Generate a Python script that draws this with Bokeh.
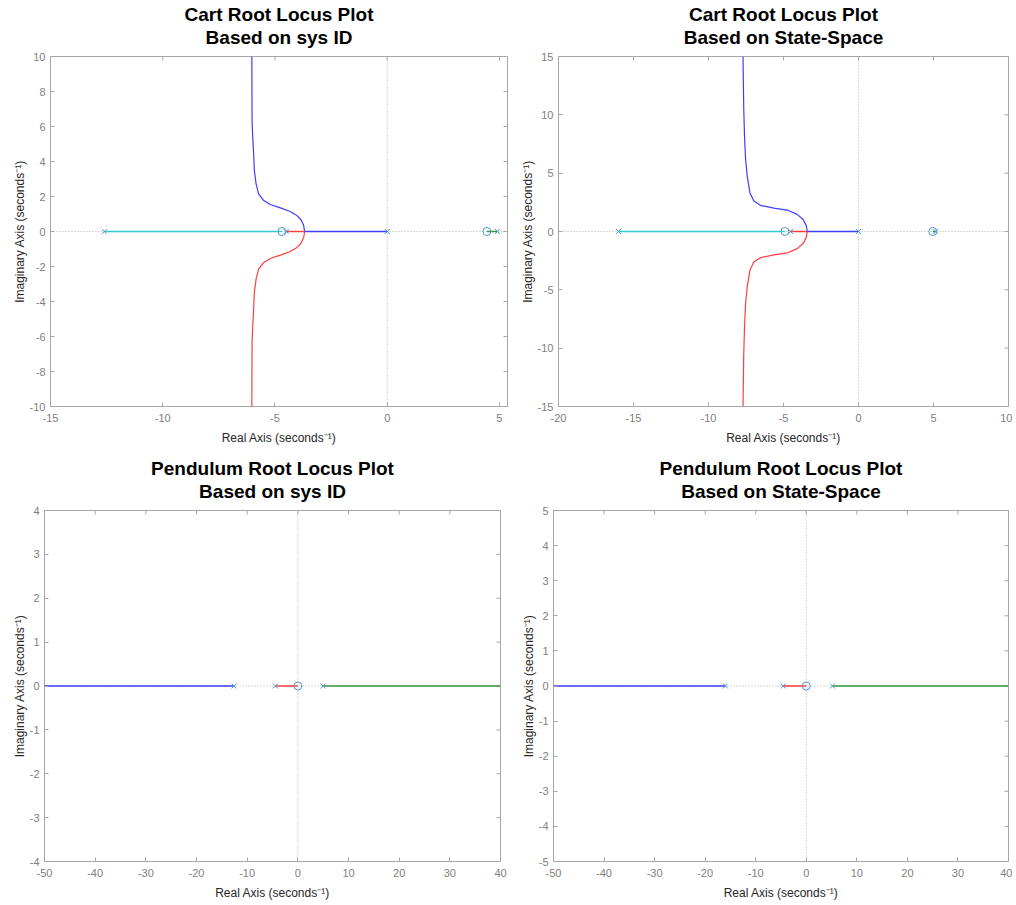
import math
from bokeh.plotting import figure
from bokeh.models import Range1d, FixedTicker, Span, Title
from bokeh.layouts import column, row
from bokeh.embed import file_html
from bokeh.resources import INLINE

FONT = "Liberation Sans"
BLUE = "#3d3dff"
RED = "#ff3d3d"
CYAN = "#33cccc"
GREEN = "#3a9a3a"
MARK = "#4d96d6"
FRAME = "#a6a6a6"

X_LABEL = "Real Axis (seconds\u207b\u00b9)"
Y_LABEL = "Imaginary Axis (seconds\u207b\u00b9)"

# ---------------- Cart, sys ID ----------------
cid_pole_x = [-12.6, -4.5, 0.0, 4.91]
cid_zero_x = [-4.69, 4.44]
cid_cyan_x = [-12.6, -4.69]
cid_green_x = [4.91, 4.44]
cid_red_axis_x = [-4.5, -3.68]
cid_blue_axis_x = [0.0, -3.68]
cid_upper_x = [-3.68, -3.72, -3.84, -4.02, -4.32, -4.76, -5.21, -5.50, -5.73, -5.84, -5.92, -5.95, -5.99, -6.02, -6.03]
cid_upper_y = [0.0, 0.34, 0.67, 0.91, 1.14, 1.35, 1.54, 1.77, 2.15, 2.72, 3.49, 4.44, 5.39, 6.34, 10.0]
cid_lower_x = [-3.68, -3.72, -3.84, -4.02, -4.32, -4.76, -5.21, -5.50, -5.73, -5.84, -5.92, -5.95, -5.99, -6.02, -6.03]
cid_lower_y = [0.0, -0.34, -0.67, -0.91, -1.14, -1.35, -1.54, -1.77, -2.15, -2.72, -3.49, -4.44, -5.39, -6.34, -10.0]

# ---------------- Cart, state-space ----------------
css_pole_x = [-16.0, -4.53, 0.0, 5.15]
css_zero_x = [-4.91, 4.95]
css_cyan_x = [-16.0, -4.91]
css_green_x = [5.15, 4.95]
css_red_axis_x = [-4.53, -3.42]
css_blue_axis_x = [0.0, -3.42]
css_upper_x = [-3.42, -3.47, -3.69, -4.09, -4.75, -5.64, -6.53, -6.98, -7.24, -7.42, -7.53, -7.60, -7.65, -7.70]
css_upper_y = [0.0, 0.46, 1.03, 1.47, 1.84, 2.01, 2.24, 2.61, 3.33, 4.77, 6.21, 8.22, 10.5, 15.0]
css_lower_x = [-3.42, -3.47, -3.69, -4.09, -4.75, -5.64, -6.53, -6.98, -7.24, -7.42, -7.53, -7.60, -7.65, -7.70]
css_lower_y = [0.0, -0.46, -1.03, -1.47, -1.84, -2.01, -2.24, -2.61, -3.33, -4.77, -6.21, -8.22, -10.5, -15.0]

# ---------------- Pendulum, sys ID ----------------
pid_pole_x = [-12.6, -4.4, 5.0]
pid_zero_x = [0.0]
pid_blue_x = [-12.6, -50.0]
pid_red_x = [-4.4, 0.0]
pid_green_x = [5.0, 40.0]

# ---------------- Pendulum, state-space ----------------
pss_pole_x = [-16.0, -4.57, 5.18]
pss_zero_x = [0.0]
pss_blue_x = [-16.0, -50.0]
pss_red_x = [-4.57, 0.0]
pss_green_x = [5.18, 40.0]

# ticks
cid_xticks = [-15, -10, -5, 0, 5]
cid_yticks = [-10, -8, -6, -4, -2, 0, 2, 4, 6, 8, 10]
css_xticks = [-20, -15, -10, -5, 0, 5, 10]
css_yticks = [-15, -10, -5, 0, 5, 10, 15]
pend_xticks = [-50, -40, -30, -20, -10, 0, 10, 20, 30, 40]
pid_yticks = [-4, -3, -2, -1, 0, 1, 2, 3, 4]
pss_yticks = [-5, -4, -3, -2, -1, 0, 1, 2, 3, 4, 5]


def make_fig(w, h, borders, xr, yr, xt, yt, t1, t2):
    bl, br, bt, bb = borders
    p = figure(width=w, height=h, x_range=Range1d(*xr), y_range=Range1d(*yr),
               output_backend="svg", toolbar_location=None, title=None,
               min_border_left=bl, min_border_right=br,
               min_border_top=bt, min_border_bottom=bb,
               background_fill_color="white", border_fill_color="white",
               outline_line_color=FRAME, outline_line_width=1)
    p.xgrid.visible = False
    p.ygrid.visible = False
    for ax, ticks, lab in ((p.xaxis[0], xt, X_LABEL), (p.yaxis[0], yt, Y_LABEL)):
        ax.ticker = FixedTicker(ticks=ticks)
        ax.major_label_overrides = {t: str(t) for t in ticks}
        ax.axis_label = lab
        ax.axis_label_text_font = FONT
        ax.axis_label_text_font_size = "12px"
        ax.axis_label_text_font_style = "normal"
        ax.axis_label_text_color = "#262626"
        ax.major_label_text_font = FONT
        ax.major_label_text_font_size = "11px"
        ax.major_label_text_color = "#808080"
        ax.major_tick_in = 4
        ax.major_tick_out = 0
        ax.major_tick_line_color = FRAME
        ax.minor_tick_line_color = None
        ax.axis_line_color = None
    p.xaxis[0].major_label_standoff = 7
    p.xaxis[0].axis_label_standoff = 6
    p.yaxis[0].major_label_standoff = 5
    p.yaxis[0].axis_label_standoff = 0
    # inward ticks on the top and right edges of the box
    p.scatter(xt, [yr[1]] * len(xt), marker="dash", angle=math.pi / 2, size=8,
              line_color=FRAME, line_width=1)
    p.scatter([xr[1]] * len(yt), yt, marker="dash", size=8,
              line_color=FRAME, line_width=1)
    sub = Title(text=t2, align="center", text_font=FONT, text_font_size="19px",
                text_font_style="bold", text_color="black", standoff=0)
    try:
        sub.padding = {"left": 0, "right": 0, "top": 0, "bottom": 9}
    except Exception:
        sub.standoff = 9
    p.add_layout(sub, "above")
    p.add_layout(Title(text=t1, align="center", text_font=FONT, text_font_size="19px",
                       text_font_style="bold", text_color="black", standoff=0), "above")
    p.add_layout(Span(location=0, dimension="height", line_color="#b0b0b0",
                      line_dash="1 2", line_width=1, level="underlay"))
    p.add_layout(Span(location=0, dimension="width", line_color="#b0b0b0",
                      line_dash="1 2", line_width=1, level="underlay"))
    return p


def markers(p, poles, zeros):
    p.scatter(poles, [0] * len(poles), marker="x", size=7, line_color=MARK, line_width=1)
    p.scatter(zeros, [0] * len(zeros), marker="circle", size=8, line_color=MARK,
              fill_color=None, line_width=1)


LW = 1.2   # curves
HW = 1.6   # segments along the real axis

# Top-left
p1 = make_fig(512, 455, (50, 5, 56, 49), (-15, 5.36), (-10, 10), cid_xticks, cid_yticks,
              "Cart Root Locus Plot", "Based on sys ID")
p1.line(cid_cyan_x, [0, 0], line_color=CYAN, line_width=HW)
p1.line(cid_green_x, [0, 0], line_color=GREEN, line_width=HW)
p1.line(cid_red_axis_x, [0, 0], line_color=RED, line_width=HW)
p1.line(cid_blue_axis_x, [0, 0], line_color=BLUE, line_width=HW)
p1.line(cid_upper_x, cid_upper_y, line_color=BLUE, line_width=LW)
p1.line(cid_lower_x, cid_lower_y, line_color=RED, line_width=LW)
markers(p1, cid_pole_x, cid_zero_x)

# Top-right
p2 = make_fig(500, 455, (46, 4, 56, 49), (-20, 10), (-15, 15), css_xticks, css_yticks,
              "Cart Root Locus Plot", "Based on State-Space")
p2.line(css_cyan_x, [0, 0], line_color=CYAN, line_width=HW)
p2.line(css_green_x, [0, 0], line_color=GREEN, line_width=HW)
p2.line(css_red_axis_x, [0, 0], line_color=RED, line_width=HW)
p2.line(css_blue_axis_x, [0, 0], line_color=BLUE, line_width=HW)
p2.line(css_upper_x, css_upper_y, line_color=BLUE, line_width=LW)
p2.line(css_lower_x, css_lower_y, line_color=RED, line_width=LW)
markers(p2, css_pole_x, css_zero_x)

# Bottom-left
p3 = make_fig(512, 448, (44, 12, 55, 42), (-50, 40), (-4, 4), pend_xticks, pid_yticks,
              "Pendulum Root Locus Plot", "Based on sys ID")
p3.line(pid_blue_x, [0, 0], line_color=BLUE, line_width=HW)
p3.line(pid_red_x, [0, 0], line_color=RED, line_width=HW)
p3.line(pid_green_x, [0, 0], line_color=GREEN, line_width=HW)
markers(p3, pid_pole_x, pid_zero_x)

# Bottom-right
p4 = make_fig(500, 448, (41, 4, 55, 42), (-50, 40), (-5, 5), pend_xticks, pss_yticks,
              "Pendulum Root Locus Plot", "Based on State-Space")
p4.line(pss_blue_x, [0, 0], line_color=BLUE, line_width=HW)
p4.line(pss_red_x, [0, 0], line_color=RED, line_width=HW)
p4.line(pss_green_x, [0, 0], line_color=GREEN, line_width=HW)
markers(p4, pss_pole_x, pss_zero_x)

layout = column(row(p1, p2, spacing=0), row(p3, p4, spacing=0), spacing=0)

open("out.html", "w").write(file_html(layout, INLINE))
